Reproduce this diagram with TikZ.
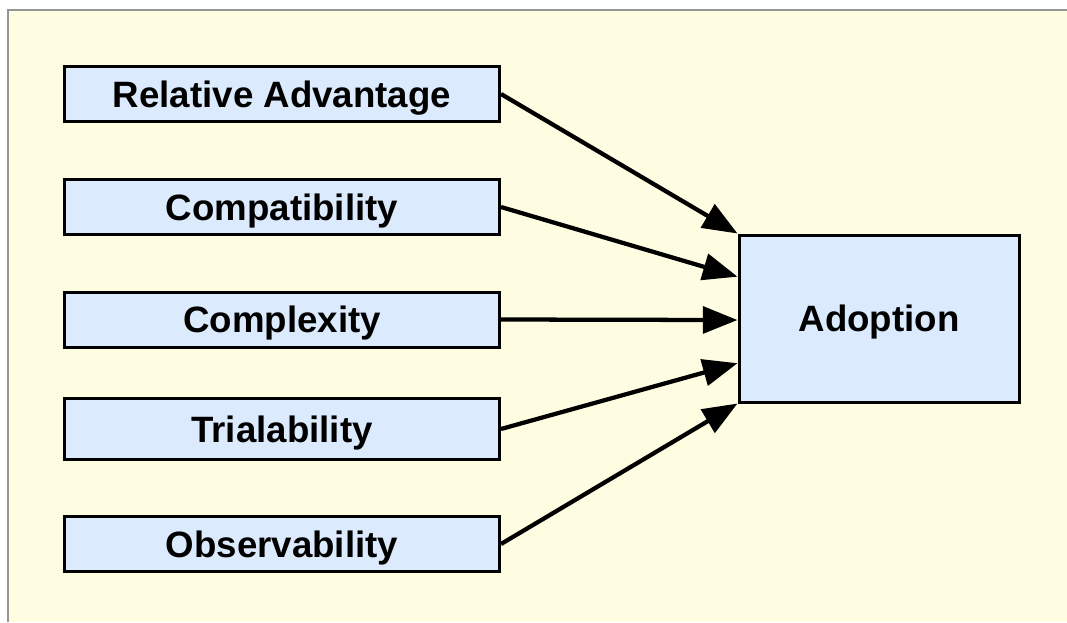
\documentclass[tikz,border=0pt]{standalone}
\usepackage{fontspec}
\setmainfont{Liberation Sans}
\usetikzlibrary{arrows.meta,calc}
\definecolor{cream}{RGB}{255,253,225}
\definecolor{boxblue}{RGB}{219,234,252}
\definecolor{framegray}{RGB}{150,150,150}
\tikzset{
  boxtext/.style={font=\fontsize{27.5}{32}\selectfont\bfseries, text height=19.7pt, text depth=0pt},
  factor/.style={draw=black, line width=2.25pt, fill=boxblue, minimum width=326.25pt, minimum height=41.25pt, inner sep=0pt, boxtext},
  outcome/.style={draw=black, line width=2.25pt, fill=boxblue, minimum width=210pt, minimum height=125.25pt, inner sep=0pt, boxtext},
  link/.style={line width=3.2pt, -{Triangle[length=26pt,width=20pt]}},
}
\begin{document}
\begin{tikzpicture}[x=0.75pt,y=-0.75pt]
\useasboundingbox (0,0) rectangle (1067,622);
\fill[cream] (8,10) rectangle (1067,622);
\draw[framegray, line width=1.5pt] (8,622) -- (8,10) -- (1067,10);
\node[factor] (ra) at (282,94) {Relative Advantage};
\node[factor] (co) at (282,207) {Compatibility};
\node[factor] (cx) at (282,319.5) {Complexity};
\node[factor, minimum height=45.75pt] (tr) at (282,429) {Trialability};
\node[factor] (ob) at (282,544) {Observability};
\node[outcome] (ad) at (879,318.5) {Adoption};
\coordinate (p1) at (ad.north west);
\coordinate (p2) at ($(ad.north west)!0.254!(ad.south west)$);
\coordinate (p3) at ($(ad.north west)!0.509!(ad.south west)$);
\coordinate (p4) at ($(ad.north west)!0.763!(ad.south west)$);
\coordinate (p5) at (ad.south west);
\draw[link] (ra.east) -- (p1);
\draw[link] (co.east) -- (p2);
\draw[link] (cx.east) -- (p3);
\draw[link] (tr.east) -- (p4);
\draw[link] (ob.east) -- (p5);
\end{tikzpicture}
\end{document}
